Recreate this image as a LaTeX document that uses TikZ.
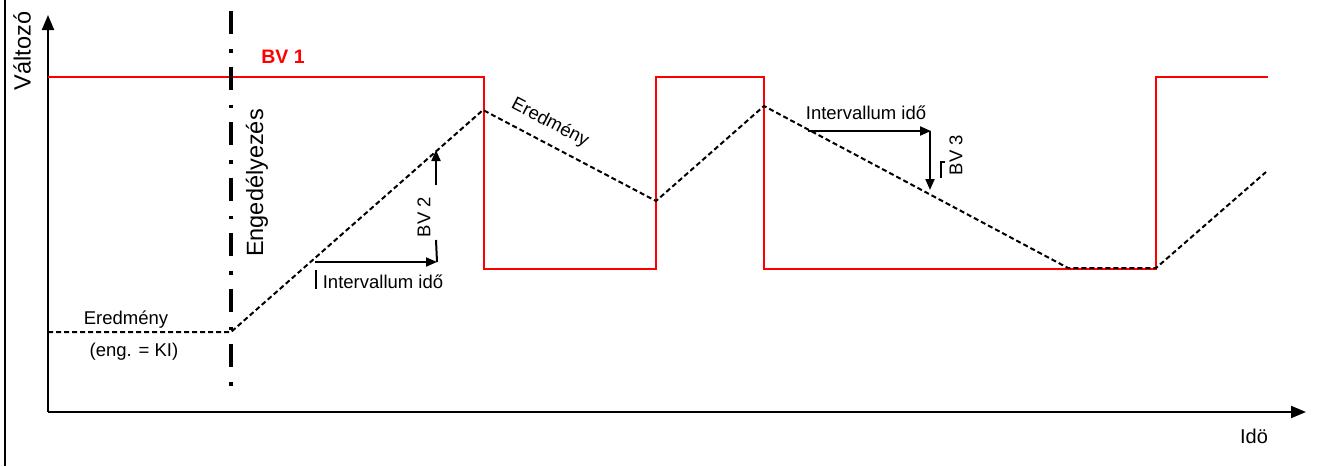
\documentclass[tikz,border=0pt]{standalone}
\usepackage{fontspec}
\setmainfont{Liberation Sans}
\usetikzlibrary{arrows.meta}
\begin{document}
\begin{tikzpicture}[x=1pt,y=-1pt,
  lbl/.style={inner sep=0pt, font=\fontsize{18.5}{21}\selectfont},
  biglbl/.style={inner sep=0pt, font=\fontsize{23.5}{26}\selectfont},
  axisline/.style={line width=2pt, -{Triangle[length=15pt,width=12pt]}},
  redline/.style={draw=red, line width=2.5pt, line join=miter},
  resultline/.style={line width=2pt, dash pattern=on 5pt off 3pt},
  enableline/.style={line width=4pt, dash pattern=on 23pt off 15pt on 3.5pt off 14pt},
  arr/.style={line width=2pt, -{Triangle[length=11pt,width=9pt]}},
  plainline/.style={line width=2pt}]
\useasboundingbox (0,0) rectangle (1319,466);
% left border
\draw[line width=2pt] (5,0) -- (5,466);
% axes
\coordinate (O) at (48,412);
\coordinate (Ytop) at (48,15);
\coordinate (Xright) at (1306,412);
\draw[axisline] (O) -- (Ytop);
\draw[axisline] (O) -- (Xright);
\node[biglbl, rotate=90] (yl) at (22,51) {Változó};
\node[lbl, font=\fontsize{20}{23}\selectfont] (xl) at (1254,436) {Idö};
% red BV1 signal
\coordinate (r0) at (48,77);
\coordinate (r1) at (484,77);
\coordinate (r2) at (484,269);
\coordinate (r3) at (656,269);
\coordinate (r4) at (656,77);
\coordinate (r5) at (764,77);
\coordinate (r6) at (764,269);
\coordinate (r7) at (1156,269);
\coordinate (r8) at (1156,77);
\coordinate (r9) at (1268,77);
\draw[redline] (r0) -- (r1) -- (r2) -- (r3) -- (r4) -- (r5) -- (r6) -- (r7) -- (r8) -- (r9);
\node[lbl, text=red, font=\fontsize{19.5}{22}\selectfont\bfseries] (bv1) at (283,57) {BV 1};
% enable line
\coordinate (e0) at (231,11);
\coordinate (e1) at (231,388);
\draw[enableline] (e0) -- (e1);
\node[biglbl, rotate=90] (enl) at (257,183) {Engedélyezés};
% result
\coordinate (p0) at (48,332);
\coordinate (p1) at (231,332);
\coordinate (p2) at (483,110);
\coordinate (p3) at (656,201);
\coordinate (p4) at (764,106);
\coordinate (p5) at (1068,268);
\coordinate (p6) at (1156,268);
\coordinate (p7) at (1266,172);
\draw[resultline] (p0) -- (p1) -- (p2) -- (p3) -- (p4) -- (p5) -- (p6) -- (p7);
\node[lbl] (res1) at (126,320) {Eredmény};
\node[lbl] (res2) at (134,352) {(eng. = KI)};
\node[lbl, rotate=-27.4] (res3) at (550,123) {Eredmény};
% BV 2 interval
\coordinate (a0) at (315,262);
\coordinate (a1) at (437,262);
\coordinate (a2) at (436,240);
\coordinate (a3) at (436,185);
\coordinate (a4) at (436,150);
\draw[arr] (a0) -- (a1);
\draw[plainline] (a1) -- (a2);
\draw[arr] (a3) -- (a4);
\node[lbl, rotate=90] (bv2) at (424,217) {BV 2};
\node[lbl] (int1) at (383,282) {Intervallum idő};
\coordinate (t0) at (316,270);
\coordinate (t1) at (316,289);
\draw[line width=2.5pt] (t0) -- (t1);
% BV 3 interval
\coordinate (b0) at (808,131);
\coordinate (b1) at (931,131);
\coordinate (b2) at (930,131);
\coordinate (b3) at (930,190);
\draw[arr] (b0) -- (b1);
\draw[arr] (b2) -- (b3);
\node[lbl] (int2) at (866,113) {Intervallum idő};
\node[lbl, rotate=90] (bv3) at (956,155) {BV 3};
\coordinate (m0) at (945,162);
\coordinate (m1) at (941,162);
\coordinate (m2) at (941,178);
\draw[line width=1.5pt] (m0) -- (m1) -- (m2);
\end{tikzpicture}
\end{document}
